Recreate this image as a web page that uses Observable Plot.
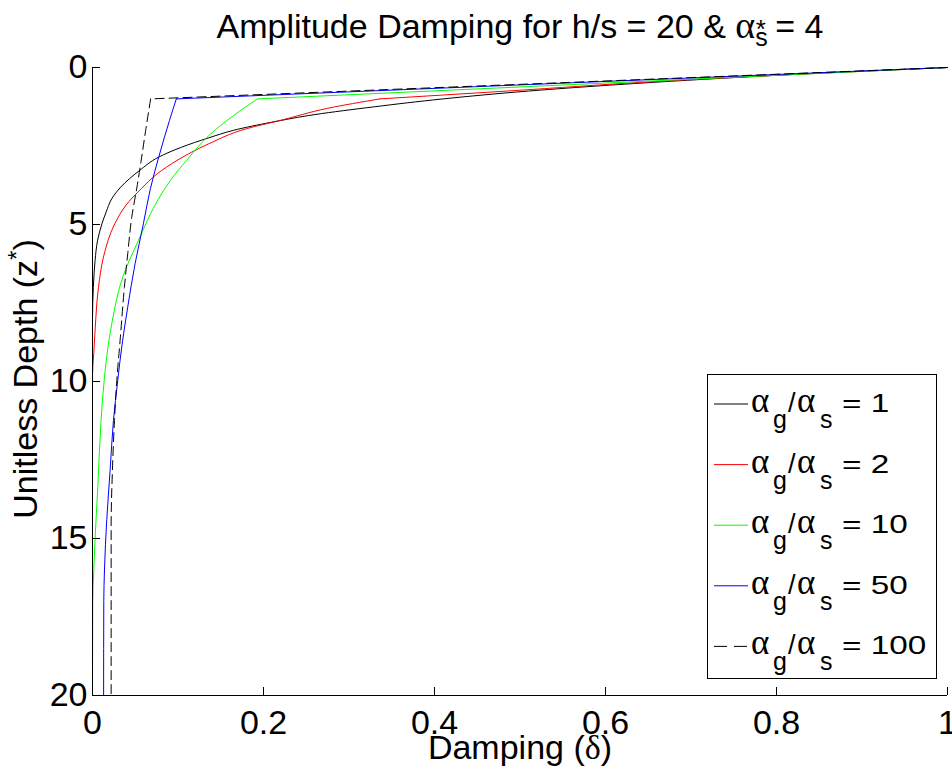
<!DOCTYPE html>
<html><head><meta charset="utf-8">
<script src="https://cdn.jsdelivr.net/npm/d3@7"></script>
<script src="https://cdn.jsdelivr.net/npm/@observablehq/plot@0.6"></script>
<style>
body{margin:0;background:#fff;}
svg{display:block;}
</style>
</head><body><div id="chart"></div>
<script>
// ---- tick values / labels
const xTicks = [0, 0.2, 0.4, 0.6, 0.8, 1];
const xTickLabels = ["0", "0.2", "0.4", "0.6", "0.8", "1"];
const yTicks = [0, 5, 10, 15, 20];
const yTickLabels = ["0", "5", "10", "15", "20"];

// ---- series (alpha_g / alpha_s ratios)
const ratios = ["1", "2", "10", "50", "100"];
const colors = ["#000000", "#ff0000", "#00ff00", "#0000ff", "#000000"];
const dashes = [null, null, null, null, "9,5"];
const kinkIndex = [null, 4, 1, 1, 1];

// depth z* and damping delta
const depth1 = [0, 0.25, 0.5, 0.75, 1.0, 1.25, 1.5, 1.74, 2.0, 2.24, 2.54, 2.86, 3.28, 3.81, 4.18, 4.6, 4.98, 5.5, 6.15, 7.0, 8.0, 20];
const damp1  = [1, 0.80, 0.64, 0.51, 0.41, 0.33, 0.26, 0.21, 0.165, 0.136, 0.104, 0.077, 0.055, 0.033, 0.0225, 0.016, 0.011, 0.006, 0.003, 0.001, 0, 0];

const depth2 = [0, 0.22, 0.44, 0.75, 1.0, 1.3, 1.69, 1.95, 2.43, 2.96, 3.39, 3.86, 4.39, 4.98, 6.04, 7.0, 8.38, 9.1, 9.8, 20];
const damp2  = [1, 0.82, 0.663, 0.485, 0.336, 0.275, 0.219, 0.180, 0.136, 0.0988, 0.0755, 0.057, 0.039, 0.026, 0.0128, 0.007, 0.003, 0.0015, 0, 0];

const depth3 = [0, 1.0, 1.53, 2.17, 2.96, 3.6, 4.39, 5.51, 6.62, 8.16, 9.86, 11.24, 13.37, 15.0, 16.0, 17.0, 20];
const damp3  = [1, 0.193, 0.165, 0.136, 0.110, 0.091, 0.073, 0.0537, 0.036, 0.0225, 0.014, 0.0100, 0.0062, 0.003, 0.0015, 0.0003, 0];

const depth4 = [0, 1.0, 1.69, 2.86, 3.86, 4.98, 6.25, 7.63, 8.9, 9.97, 11.24, 12.83, 14.4, 16.0, 17.0, 20];
const damp4  = [1, 0.098, 0.090, 0.0774, 0.0677, 0.0595, 0.0498, 0.0412, 0.0342, 0.0295, 0.0245, 0.0206, 0.0167, 0.014, 0.0132, 0.0130];

const depth5 = [0, 1.0, 2.0, 3.0, 3.81, 4.77, 5.93, 7.0, 8.69, 9.97, 11.24, 12.83, 14.6, 20];
const damp5  = [1, 0.068, 0.0622, 0.0567, 0.052, 0.0459, 0.0412, 0.0373, 0.0323, 0.0284, 0.0257, 0.0233, 0.0218, 0.0218];

const depths = [depth1, depth2, depth3, depth4, depth5];
const damps = [damp1, damp2, damp3, damp4, damp5];

// build rows, split at the layer interface (kink) so it stays sharp
const lineMarks = [];
depths.forEach((zs, s) => {
  const rows = [];
  const k = kinkIndex[s];
  zs.forEach((z, i) => {
    const part = (k === null || i <= k) ? 0 : 1;
    rows.push({z, d: damps[s][i], part});
    if (k !== null && i === k) rows.push({z, d: damps[s][i], part: 1});
  });
  lineMarks.push(Plot.line(rows, {
    x: "d", y: "z", z: "part",
    stroke: colors[s], strokeWidth: 1,
    strokeDasharray: dashes[s] || undefined,
    curve: "monotone-y"
  }));
});

const FONT = "'Liberation Sans', Arial, Helvetica, sans-serif";
const SERIF = "'Liberation Serif', 'Times New Roman', serif";

const chart = Plot.plot({
  width: 952,
  height: 775,
  marginLeft: 92,
  marginRight: 5,
  marginTop: 67,
  marginBottom: 80,
  style: {fontSize: "34px", fontFamily: FONT, background: "white", color: "black", overflow: "visible"},
  x: {domain: [0, 1]},
  y: {domain: [0, 20], reverse: true},
  marks: [
    ...lineMarks,
    Plot.ruleX([0], {stroke: "black", strokeWidth: 1}),
    Plot.ruleY([20], {stroke: "black", strokeWidth: 1}),
    Plot.axisX({ticks: xTicks, tickFormat: d => xTickLabels[xTicks.indexOf(d)], tickSize: -8, tickPadding: 22, label: null, stroke: "black"}),
    Plot.axisY({ticks: yTicks, tickFormat: d => yTickLabels[yTicks.indexOf(d)], tickSize: -8, tickPadding: 13, label: null, stroke: "black"})
  ]
});
document.getElementById("chart").appendChild(chart);

const svg = d3.select(chart);

// Title
const title = svg.append("text")
  .attr("x", 520).attr("y", 38)
  .attr("text-anchor", "middle")
  .style("font-family", FONT).style("font-size", "34px").attr("fill", "black");
title.append("tspan").text("Amplitude Damping for h/s = 20 & ");
title.append("tspan").style("font-family", SERIF).style("font-size", "38px").text("α");
title.append("tspan").attr("dy", 8).style("font-size", "25px").text("s");
title.append("tspan").attr("dx", -12).attr("dy", -8).style("font-size", "26px").text("*");
title.append("tspan").text(" = 4");

// X label
const xl = svg.append("text")
  .attr("x", 520).attr("y", 759)
  .attr("text-anchor", "middle")
  .style("font-family", FONT).style("font-size", "34px").attr("fill", "black");
xl.append("tspan").text("Damping (");
xl.append("tspan").style("font-family", SERIF).text("δ");
xl.append("tspan").text(")");

// Y label
const yl = svg.append("text")
  .attr("transform", "translate(37,379) rotate(-90)")
  .attr("text-anchor", "middle")
  .style("font-family", FONT).style("font-size", "34px").attr("fill", "black");
yl.append("tspan").text("Unitless Depth (z");
yl.append("tspan").attr("dy", -12).style("font-size", "24px").text("*");
yl.append("tspan").attr("dy", 12).text(")");

// Legend
const lg = svg.append("g").attr("text-anchor", "start");
lg.append("rect")
  .attr("x", 707.5).attr("y", 374.5).attr("width", 229).attr("height", 304)
  .attr("fill", "white").attr("stroke", "black").attr("stroke-width", 1);
ratios.forEach((r, i) => {
  const base = 412 + i * 60.6;
  lg.append("line")
    .attr("x1", 714).attr("x2", 748).attr("y1", base - 8).attr("y2", base - 8)
    .attr("stroke", colors[i]).attr("stroke-width", 1)
    .attr("stroke-dasharray", dashes[i] ? "13,7" : null);
  const t = lg.append("text").attr("y", base).attr("fill", "black")
    .attr("text-anchor", "start").style("font-family", FONT);
  t.append("tspan").attr("x", 751).style("font-family", SERIF).style("font-size", "35px").text("α");
  t.append("tspan").attr("x", 773).attr("dy", 16).style("font-size", "25px").text("g");
  t.append("tspan").attr("x", 788).attr("dy", -16).style("font-size", "27px").text("/");
  t.append("tspan").attr("x", 797).style("font-family", SERIF).style("font-size", "35px").text("α");
  t.append("tspan").attr("x", 820).attr("dy", 16).style("font-size", "25px").text("s");
  lg.append("g").attr("transform", `translate(842,${base}) scale(1.28,1)`)
    .append("text").attr("x", 0).attr("y", 0).attr("fill", "black")
    .attr("text-anchor", "start")
    .style("font-family", FONT).style("font-size", "26px")
    .text("= " + r);
});
</script>
</body></html>
